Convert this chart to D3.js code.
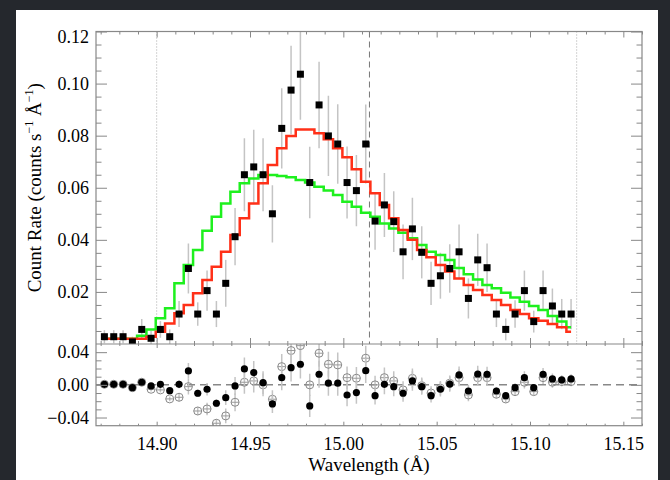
<!DOCTYPE html>
<html>
<head>
<meta charset="utf-8">
<script src="https://cdn.jsdelivr.net/npm/d3@7"></script>
<style>
  html, body { margin: 0; padding: 0; background: #25282d; }
  svg { display: block; }
  text { font-family: "Liberation Serif", "DejaVu Serif", serif; fill: #000; }
</style>
</head>
<body>
<div id="wrapper"></div>
<script>
// bin centres (Angstrom)
const wavelength = [
  14.872, 14.877, 14.882, 14.887, 14.892, 14.897, 14.902, 14.907, 14.912, 14.917,
  14.922, 14.927, 14.932, 14.937, 14.942, 14.947, 14.952, 14.957, 14.962, 14.967,
  14.972, 14.977, 14.982, 14.987, 14.992, 14.997, 15.002, 15.007, 15.012, 15.017,
  15.022, 15.027, 15.032, 15.037, 15.042, 15.047, 15.052, 15.057, 15.062, 15.067,
  15.072, 15.077, 15.082, 15.087, 15.092, 15.097, 15.102, 15.107, 15.112, 15.117,
  15.122
]
// observed count rate
const countRate = [
  0.0028, 0.0028, 0.0028, 0.0008, 0.0056, 0.0022, 0.0056, 0.0028, 0.0115, 0.0290,
  0.0115, 0.0205, 0.0115, 0.0233, 0.0412, 0.0650, 0.0680, 0.0650, 0.0500, 0.0828,
  0.0975, 0.1036, 0.0620, 0.0918, 0.0799, 0.0768, 0.0620, 0.0589, 0.0768, 0.0472,
  0.0534, 0.0470, 0.0354, 0.0442, 0.0352, 0.0233, 0.0262, 0.0290, 0.0354, 0.0175,
  0.0323, 0.0293, 0.0115, 0.0056, 0.0115, 0.0205, 0.0086, 0.0205, 0.0146, 0.0115,
  0.0115
]
const countErr = [
  0.0025, 0.0025, 0.0025, 0.0020, 0.0040, 0.0028, 0.0032, 0.0028, 0.0050, 0.0096,
  0.0045, 0.0077, 0.0050, 0.0090, 0.0110, 0.0140, 0.0143, 0.0140, 0.0110, 0.0154,
  0.0170, 0.0175, 0.0137, 0.0166, 0.0154, 0.0153, 0.0138, 0.0137, 0.0152, 0.0110,
  0.0123, 0.0117, 0.0105, 0.0120, 0.0100, 0.0083, 0.0088, 0.0093, 0.0105, 0.0077,
  0.0100, 0.0093, 0.0050, 0.0042, 0.0053, 0.0077, 0.0042, 0.0077, 0.0067, 0.0058,
  0.0058
]
// model histograms
const redModel = [
  0.0020, 0.0020, 0.0020, 0.0020, 0.0020, 0.0028, 0.0047, 0.0079, 0.0118, 0.0150,
  0.0195, 0.0246, 0.0297, 0.0354, 0.0419, 0.0483, 0.0540, 0.0617, 0.0687, 0.0752,
  0.0799, 0.0824, 0.0824, 0.0809, 0.0786, 0.0752, 0.0717, 0.0671, 0.0623, 0.0579,
  0.0534, 0.0483, 0.0438, 0.0400, 0.0361, 0.0333, 0.0303, 0.0278, 0.0252, 0.0227,
  0.0207, 0.0188, 0.0169, 0.0150, 0.0131, 0.0115, 0.0099, 0.0089, 0.0077, 0.0064,
  0.0047
]
const greenModel = [
  0.0020, 0.0020, 0.0020, 0.0020, 0.0032, 0.0056, 0.0099, 0.0137, 0.0233, 0.0303,
  0.0361, 0.0435, 0.0489, 0.0540, 0.0585, 0.0617, 0.0636, 0.0649, 0.0649, 0.0645,
  0.0640, 0.0630, 0.0620, 0.0604, 0.0589, 0.0572, 0.0546, 0.0527, 0.0504, 0.0489,
  0.0463, 0.0444, 0.0427, 0.0406, 0.0380, 0.0354, 0.0342, 0.0323, 0.0292, 0.0268,
  0.0248, 0.0227, 0.0214, 0.0197, 0.0179, 0.0162, 0.0146, 0.0131, 0.0108, 0.0086,
  0.0064
]
// residuals: filled = red model, open = green model
const residRed = [
  0.0007, 0.0007, 0.0007, -0.0034, 0.0032, -0.0013, 0.0007, -0.0071, 0.0007, 0.0170,
  -0.0103, -0.0054, -0.0225, -0.0157, -0.0013, 0.0195, 0.0150, 0.0027, -0.0234, 0.0088,
  0.0210, 0.0252, -0.0258, 0.0130, 0.0020, 0.0020, -0.0124, -0.0095, 0.0174, -0.0132,
  0.0007, -0.0022, -0.0103, 0.0048, -0.0022, -0.0132, -0.0054, 0.0010, 0.0121, -0.0075,
  0.0133, 0.0130, -0.0075, -0.0132, -0.0034, 0.0088, -0.0034, 0.0130, 0.0072, 0.0060,
  0.0072
]
const residGreen = [
  0.0007, 0.0007, 0.0007, -0.0034, 0.0032, -0.0054, -0.0062, -0.0172, -0.0152, -0.0022,
  -0.0320, -0.0295, -0.0470, -0.0380, -0.0213, 0.0032, 0.0048, 0.0000, -0.0176, 0.0223,
  0.0420, 0.0480, 0.0000, 0.0387, 0.0252, 0.0244, 0.0088, 0.0081, 0.0326, 0.0000,
  0.0088, 0.0048, -0.0062, 0.0080, -0.0010, -0.0100, -0.0040, 0.0020, 0.0088, -0.0124,
  0.0088, 0.0088, -0.0115, -0.0173, -0.0083, 0.0032, -0.0083, 0.0088, 0.0032, 0.0040,
  0.0040
]
const xMajorTicks = [14.90, 14.95, 15.00, 15.05, 15.10, 15.15]
const yTopLabels = [0.02, 0.04, 0.06, 0.08, 0.10, 0.12]
const yLowLabels = [-0.04, 0.00, 0.04]
const lineCentre = 15.014
const regionEdges = [14.90, 15.125]

function drawSpectrum() {

    // 1. Dimensions
    let dimensions = {
        width: 670,
        height: 480,
        left: 96,
        right: 642,
        top: 31.5,
        split: 344,
        bottom: 425.7,
    }

    const points = wavelength.map((w, i) => ({
        w: w,
        rate: countRate[i],
        err: countErr[i],
        red: redModel[i],
        green: greenModel[i],
        rr: residRed[i],
        rg: residGreen[i],
    }))

    const wrapper = d3.select("#wrapper")
        .append("svg")
        .attr("width", dimensions.width)
        .attr("height", dimensions.height)

    // page
    wrapper.append("rect")
        .attr("x", 16).attr("y", 10)
        .attr("width", 642).attr("height", 470)
        .attr("fill", "#fff")

    // 2. Scales
    const xScale = d3.scaleLinear()
        .domain([14.8675, 15.16])
        .range([dimensions.left, dimensions.right])
    const yTop = d3.scaleLinear()
        .domain([0, 0.12])
        .range([dimensions.split, dimensions.top])
    const yLow = d3.scaleLinear()
        .domain([-0.05, 0.05])
        .range([dimensions.bottom, dimensions.split])

    const defs = wrapper.append("defs")
    defs.append("clipPath").attr("id", "clip-top")
        .append("rect")
        .attr("x", dimensions.left).attr("y", dimensions.top)
        .attr("width", dimensions.right - dimensions.left)
        .attr("height", dimensions.split - dimensions.top)
    defs.append("clipPath").attr("id", "clip-low")
        .append("rect")
        .attr("x", dimensions.left).attr("y", dimensions.split)
        .attr("width", dimensions.right - dimensions.left)
        .attr("height", dimensions.bottom - dimensions.split)

    // 3. Top panel
    const top = wrapper.append("g").attr("clip-path", "url(#clip-top)")

    top.selectAll(".region")
        .data(regionEdges)
        .join("line")
        .attr("x1", xScale).attr("x2", xScale)
        .attr("y1", dimensions.top).attr("y2", dimensions.split)
        .attr("stroke", "#aaa")
        .attr("stroke-width", 1)
        .attr("stroke-dasharray", "1,2")

    top.append("line")
        .attr("x1", xScale(lineCentre)).attr("x2", xScale(lineCentre))
        .attr("y1", dimensions.top).attr("y2", dimensions.split)
        .attr("stroke", "#777")
        .attr("stroke-width", 1)
        .attr("stroke-dasharray", "6,4")

    top.selectAll(".err")
        .data(points)
        .join("line")
        .attr("x1", d => xScale(d.w)).attr("x2", d => xScale(d.w))
        .attr("y1", d => yTop(d.rate - d.err))
        .attr("y2", d => yTop(d.rate + d.err))
        .attr("stroke", "#c4c4c4")
        .attr("stroke-width", 1.5)

    const stepLine = key => d3.line()
        .x(d => xScale(d.w))
        .y(d => yTop(d[key]))
        .curve(d3.curveStep)

    top.append("path")
        .datum(points)
        .attr("d", stepLine("green"))
        .attr("fill", "none")
        .attr("stroke", "#1ef01e")
        .attr("stroke-width", 2.5)

    top.append("path")
        .datum(points)
        .attr("d", stepLine("red"))
        .attr("fill", "none")
        .attr("stroke", "#ff3018")
        .attr("stroke-width", 2.5)

    top.selectAll(".dot")
        .data(points)
        .join("rect")
        .attr("x", d => xScale(d.w) - 3.5)
        .attr("y", d => yTop(d.rate) - 3.5)
        .attr("width", 7).attr("height", 7)
        .attr("fill", "#000")

    // 4. Residual panel
    const low = wrapper.append("g").attr("clip-path", "url(#clip-low)")

    low.append("line")
        .attr("x1", dimensions.left).attr("x2", dimensions.right)
        .attr("y1", yLow(0)).attr("y2", yLow(0))
        .attr("stroke", "#888")
        .attr("stroke-width", 1.5)
        .attr("stroke-dasharray", "8,5")

    low.selectAll(".err-g")
        .data(points)
        .join("line")
        .attr("x1", d => xScale(d.w)).attr("x2", d => xScale(d.w))
        .attr("y1", d => yLow(d.rg - d.err))
        .attr("y2", d => yLow(d.rg + d.err))
        .attr("stroke", "#c4c4c4")
        .attr("stroke-width", 1.5)

    low.selectAll(".open-h")
        .data(points)
        .join("line")
        .attr("x1", d => xScale(d.w) - 4).attr("x2", d => xScale(d.w) + 4)
        .attr("y1", d => yLow(d.rg)).attr("y2", d => yLow(d.rg))
        .attr("stroke", "#999")
        .attr("stroke-width", 1)

    low.selectAll(".open")
        .data(points)
        .join("circle")
        .attr("cx", d => xScale(d.w))
        .attr("cy", d => yLow(d.rg))
        .attr("r", 4)
        .attr("fill", "none")
        .attr("stroke", "#888")
        .attr("stroke-width", 1)

    low.selectAll(".err-r")
        .data(points)
        .join("line")
        .attr("x1", d => xScale(d.w)).attr("x2", d => xScale(d.w))
        .attr("y1", d => yLow(d.rr - d.err))
        .attr("y2", d => yLow(d.rr + d.err))
        .attr("stroke", "#c4c4c4")
        .attr("stroke-width", 1.5)

    low.selectAll(".filled")
        .data(points)
        .join("circle")
        .attr("cx", d => xScale(d.w))
        .attr("cy", d => yLow(d.rr))
        .attr("r", 3.6)
        .attr("fill", "#000")

    // 5. Frames and ticks
    const axisColor = "#888"
    const frame = wrapper.append("g")
    frame.append("rect")
        .attr("x", dimensions.left).attr("y", dimensions.top)
        .attr("width", dimensions.right - dimensions.left)
        .attr("height", dimensions.bottom - dimensions.top)
        .attr("fill", "none")
        .attr("stroke", axisColor)
        .attr("stroke-width", 1.2)
    frame.append("line")
        .attr("x1", dimensions.left).attr("x2", dimensions.right)
        .attr("y1", dimensions.split).attr("y2", dimensions.split)
        .attr("stroke", axisColor)
        .attr("stroke-width", 1.2)

    const xMinor = d3.range(14.87, 15.161, 0.01).filter(v => !xMajorTicks.some(m => Math.abs(m - v) < 1e-6))

    function addAxis(gen, transform) {
        const g = wrapper.append("g")
            .attr("transform", transform)
            .call(gen)
        g.select(".domain").remove()
        g.selectAll(".tick line").attr("stroke", axisColor)
        return g
    }

    // x ticks, top panel (top & bottom edges)
    addAxis(d3.axisTop(xScale).tickValues(xMajorTicks).tickSize(-6).tickFormat(""), `translate(0,${dimensions.top})`)
    addAxis(d3.axisTop(xScale).tickValues(xMinor).tickSize(-3).tickFormat(""), `translate(0,${dimensions.top})`)
    addAxis(d3.axisBottom(xScale).tickValues(xMajorTicks).tickSize(-6).tickFormat(""), `translate(0,${dimensions.split})`)
    addAxis(d3.axisBottom(xScale).tickValues(xMinor).tickSize(-3).tickFormat(""), `translate(0,${dimensions.split})`)
    // x ticks, residual panel
    addAxis(d3.axisTop(xScale).tickValues(xMajorTicks).tickSize(-4).tickFormat(""), `translate(0,${dimensions.split})`)
    addAxis(d3.axisTop(xScale).tickValues(xMinor).tickSize(-2).tickFormat(""), `translate(0,${dimensions.split})`)
    addAxis(d3.axisBottom(xScale).tickValues(xMinor).tickSize(-2).tickFormat(""), `translate(0,${dimensions.bottom})`)
    const xAxis = addAxis(d3.axisBottom(xScale).tickValues(xMajorTicks).tickSize(-4).tickPadding(11.5)
        .tickFormat(d3.format(".2f")), `translate(0,${dimensions.bottom})`)
    xAxis.selectAll("text").attr("font-size", 18).attr("font-family", "Liberation Serif")

    // y ticks, top panel
    const yTopMinor = d3.range(0.005, 0.1201, 0.005).filter(v => Math.abs(v / 0.02 - Math.round(v / 0.02)) > 1e-6)
    const yAxisTop = addAxis(d3.axisLeft(yTop).tickValues(yTopLabels).tickSize(-11).tickPadding(7)
        .tickFormat(d3.format(".2f")), `translate(${dimensions.left},0)`)
    yAxisTop.selectAll("text").attr("font-size", 18).attr("font-family", "Liberation Serif")
    yAxisTop.selectAll(".tick").filter(d => d === 0.12).select("text").attr("y", 5.5)
    addAxis(d3.axisLeft(yTop).tickValues(yTopMinor).tickSize(-5.5).tickFormat(""), `translate(${dimensions.left},0)`)
    addAxis(d3.axisRight(yTop).tickValues(yTopLabels).tickSize(-11).tickFormat(""), `translate(${dimensions.right},0)`)
    addAxis(d3.axisRight(yTop).tickValues(yTopMinor).tickSize(-5.5).tickFormat(""), `translate(${dimensions.right},0)`)

    // y ticks, residual panel
    const yLowMinor = [-0.03, -0.02, -0.01, 0.01, 0.02, 0.03]
    const yAxisLow = addAxis(d3.axisLeft(yLow).tickValues(yLowLabels).tickSize(-11).tickPadding(7)
        .tickFormat(d3.format(".2f")), `translate(${dimensions.left},0)`)
    yAxisLow.selectAll("text").attr("font-size", 18).attr("font-family", "Liberation Serif")
    addAxis(d3.axisLeft(yLow).tickValues(yLowMinor).tickSize(-5.5).tickFormat(""), `translate(${dimensions.left},0)`)
    addAxis(d3.axisRight(yLow).tickValues(yLowLabels).tickSize(-11).tickFormat(""), `translate(${dimensions.right},0)`)
    addAxis(d3.axisRight(yLow).tickValues(yLowMinor).tickSize(-5.5).tickFormat(""), `translate(${dimensions.right},0)`)

    // 6. Axis titles
    wrapper.append("text")
        .attr("x", (dimensions.left + dimensions.right) / 2)
        .attr("y", 471)
        .attr("text-anchor", "middle")
        .attr("font-size", 19)
        .text("Wavelength (Å)")

    const yLabel = wrapper.append("text")
        .attr("transform", `translate(41,${(dimensions.top + dimensions.split) / 2}) rotate(-90)`)
        .attr("text-anchor", "middle")
        .attr("font-size", 19)
    yLabel.append("tspan").text("Count Rate (counts s")
    yLabel.append("tspan").attr("font-size", 12).attr("dy", -8).text("−1")
    yLabel.append("tspan").attr("dy", 8).text(" Å")
    yLabel.append("tspan").attr("font-size", 12).attr("dy", -8).text("−1")
    yLabel.append("tspan").attr("dy", 8).text(")")
}

drawSpectrum()
</script>
</body>
</html>
